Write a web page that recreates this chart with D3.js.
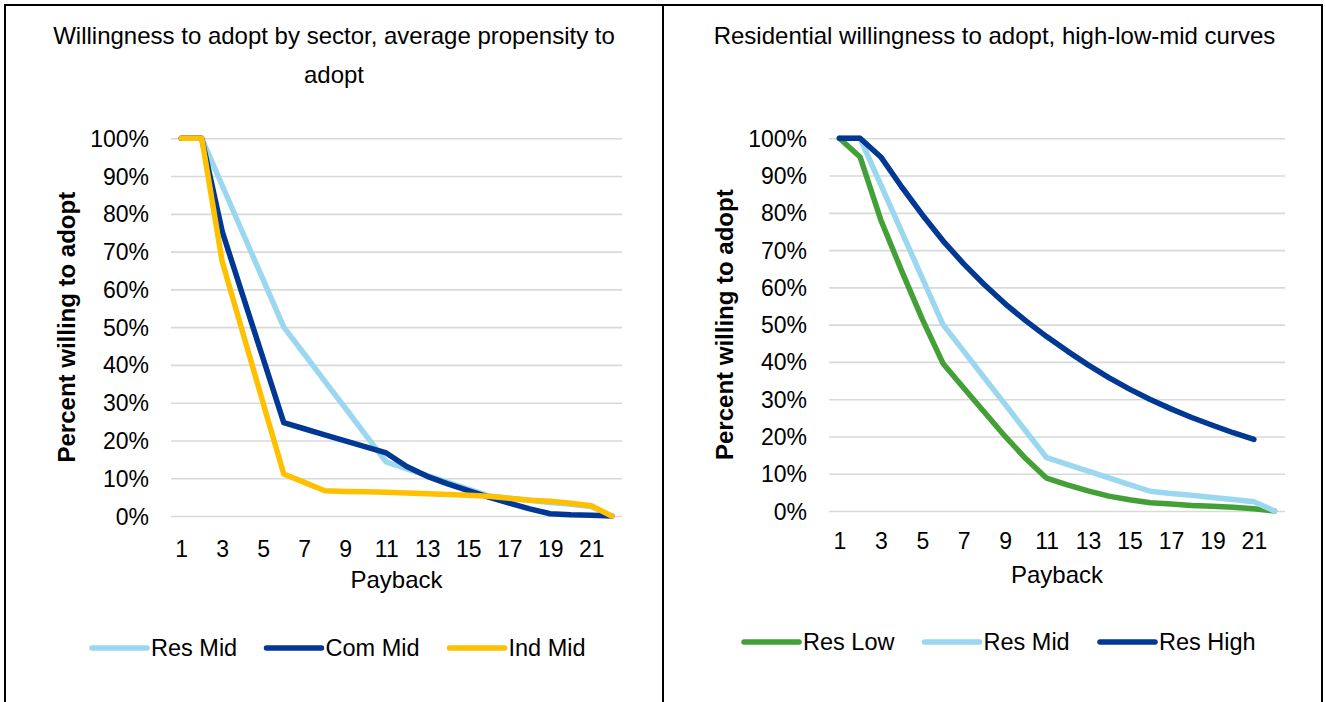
<!DOCTYPE html>
<html><head><meta charset="utf-8">
<script src="https://cdn.jsdelivr.net/npm/d3@7"></script>
<style>html,body{margin:0;padding:0;background:#fff;overflow:hidden}</style>
</head><body><svg id="c" width="1326" height="702"></svg>
<script>
// ---- data ----
const payback = [1,2,3,4,5,6,7,8,9,10,11,12,13,14,15,16,17,18,19,20,21,22];
const xTickLabels = [1,3,5,7,9,11,13,15,17,19,21];
const yTicks = [0,10,20,30,40,50,60,70,80,90,100];

const resMid  = [100,100,87.5,75,62.5,50,42.9,35.7,28.6,21.4,14.3,12.5,10.7,8.9,7.1,5.3,4.7,4.2,3.6,3.1,2.5,0];
const comMid  = [100,100,75.3,58.4,41.6,24.7,23.1,21.5,19.9,18.3,16.7,13.1,10.5,8.5,6.7,5.0,3.4,1.9,0.6,0.3,0.2,0];
const indMid  = [100,100,67.3,48.6,29.8,11.1,8.9,6.7,6.5,6.4,6.3,6.1,5.9,5.7,5.5,5.2,4.7,4.2,3.9,3.4,2.7,0];
const resLow  = [100,95,78.1,64.5,51.5,39.6,33,26.5,20,14,8.8,7.0,5.4,4.0,3.0,2.2,1.9,1.5,1.25,1.0,0.6,0];
const resHigh = [100,100,95,87,79.5,72.5,66.3,60.7,55.6,51,46.8,42.9,39.2,35.8,32.7,29.9,27.4,25.1,23,21,19.2];

const leftTitle = ["Willingness to adopt by sector, average propensity to", "adopt"];
const rightTitle = ["Residential willingness to adopt, high-low-mid curves"];
const leftNames = ["Res Mid","Com Mid","Ind Mid"];
const rightNames = ["Res Low","Res Mid","Res High"];
const xTitle = "Payback";
const yTitle = "Percent willing to adopt";

// ---- styles ----
const C_LIGHT = "#9bd8ef", C_DARK = "#003893", C_YEL = "#ffc000", C_GREEN = "#43a037";
const FONT = "'Liberation Sans', Arial, sans-serif";
const svg = d3.select("#c");

// table borders
svg.append("g").attr("stroke","#000").attr("stroke-width",2).selectAll("line")
  .data([[4,5,1323,5],[5,4,5,702],[663,4,663,702],[1322,4,1322,702]])
  .join("line").attr("x1",d=>d[0]).attr("y1",d=>d[1]).attr("x2",d=>d[2]).attr("y2",d=>d[3]);

function drawPanel(p) {
  const g = svg.append("g");
  const x = d3.scalePoint().domain(payback).range([p.left, p.right]).padding(0.5);
  const y = d3.scaleLinear().domain([0,100]).range([p.bottom, p.top]);

  // title
  g.append("g").selectAll("text").data(p.title).join("text")
    .attr("x", p.titleX).attr("y",(d,i)=>p.titleY + i*39)
    .attr("text-anchor","middle").attr("font-family",FONT).attr("font-size",24).attr("fill","#000")
    .text(d=>d);

  // y axis with gridlines
  const ya = g.append("g").attr("transform",`translate(${p.left},0)`)
    .call(d3.axisLeft(y).tickValues(yTicks).tickSize(-(p.right-p.left)).tickPadding(22).tickFormat(d=>d+"%"));
  ya.select(".domain").remove();
  ya.selectAll(".tick line").attr("stroke","#d9d9d9").attr("stroke-width",1.6);
  ya.selectAll(".tick text").attr("font-family",FONT).attr("font-size",23).attr("fill","#000").attr("dy","0.35em");

  // x axis labels
  const xa = g.append("g").attr("transform",`translate(0,${p.xLabelY})`)
    .call(d3.axisBottom(x).tickValues(xTickLabels).tickSize(0).tickPadding(0));
  xa.select(".domain").remove();
  xa.selectAll(".tick text").attr("y",0).attr("dy",0).attr("font-family",FONT).attr("font-size",23).attr("fill","#000");

  // axis titles
  g.append("text").attr("x",(p.left+p.right)/2).attr("y",p.xTitleY).attr("text-anchor","middle")
    .attr("font-family",FONT).attr("font-size",24).attr("fill","#000").text(xTitle);
  g.append("text").attr("transform",`translate(${p.yTitleX},${(p.top+p.bottom)/2}) rotate(-90)`)
    .attr("text-anchor","middle").attr("dy","0.35em")
    .attr("font-family",FONT).attr("font-size",24).attr("font-weight","bold").attr("fill","#000").text(yTitle);

  // lines
  const line = d3.line().x((d,i)=>x(payback[i])).y(d=>y(d));
  g.append("g").selectAll("path").data(p.series).join("path")
    .attr("d",d=>line(d.values)).attr("fill","none").attr("stroke",d=>d.color)
    .attr("stroke-width",5.5).attr("stroke-linecap","round").attr("stroke-linejoin","round");

  // legend
  const lg = g.append("g").selectAll("g").data(p.series).join("g");
  lg.append("line").attr("x1",(d,i)=>p.legendX[i]).attr("x2",(d,i)=>p.legendX[i]+55)
    .attr("y1",p.legendY).attr("y2",p.legendY).attr("stroke",d=>d.color).attr("stroke-width",5.5).attr("stroke-linecap","round");
  lg.append("text").attr("x",(d,i)=>p.legendX[i]+59).attr("y",p.legendY).attr("dy","0.35em")
    .attr("font-family",FONT).attr("font-size",23.5).attr("fill","#000").text(d=>d.name);
}

drawPanel({
  left:171, right:622, top:138.3, bottom:516,
  title:leftTitle, titleX:334, titleY:44,
  xLabelY:557, xTitleY:588, yTitleX:67,
  legendX:[92,266.5,449.5], legendY:648,
  series:[
    {name:leftNames[0], values:resMid, color:C_LIGHT},
    {name:leftNames[1], values:comMid, color:C_DARK},
    {name:leftNames[2], values:indMid, color:C_YEL}
  ]
});
drawPanel({
  left:829, right:1285, top:138.3, bottom:511,
  title:rightTitle, titleX:994.5, titleY:44,
  xLabelY:549, xTitleY:583, yTitleX:725,
  legendX:[744,924.5,1100], legendY:642,
  series:[
    {name:rightNames[0], values:resLow, color:C_GREEN},
    {name:rightNames[1], values:resMid, color:C_LIGHT},
    {name:rightNames[2], values:resHigh, color:C_DARK}
  ]
});
</script></body></html>
